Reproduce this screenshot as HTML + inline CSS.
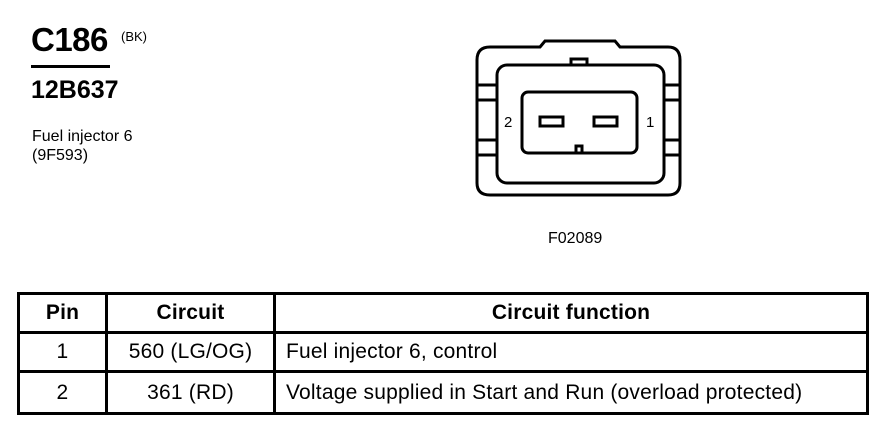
<!DOCTYPE html>
<html><head><style>
body{margin:0;width:896px;height:432px;background:#fff;position:relative;overflow:hidden;font-family:"Liberation Sans",Arial,sans-serif;color:#000}
.a{position:absolute;white-space:nowrap}
table{position:absolute;left:17px;top:292px;border-collapse:collapse;border:3px solid #000;font-size:21px;letter-spacing:0.2px}
td{border:3px solid #000;height:36px;padding:0;text-align:center}
</style></head><body>
<div class="a" style="left:31px;top:21px;font-size:33px;font-weight:bold;letter-spacing:-0.5px">C186</div>
<div class="a" style="left:121px;top:29px;font-size:13px">(BK)</div>
<div style="position:absolute;left:31px;top:65px;width:79px;height:3px;background:#000"></div>
<div class="a" style="left:31px;top:76px;font-size:25px;font-weight:bold">12B637</div>
<div class="a" style="left:32px;top:127px;font-size:16px;line-height:19px">Fuel injector 6<br>(9F593)</div>
<svg style="position:absolute;left:0;top:0" width="896" height="432">
<g fill="none" stroke="#000" stroke-width="3">
<path d="M540 47 L545 41 L615 41 L620 47 L668 47 Q680 47 680 60 L680 183 Q680 195 668 195 L490 195 Q477 195 477 183 L477 60 Q477 47 490 47 Z"/>
<rect x="497" y="65" width="167" height="118" rx="10"/>
<path d="M477 85 H497 M477 100 H497 M477 140 H497 M477 155 H497 M664 85 H680 M664 100 H680 M664 140 H680 M664 155 H680"/>
<rect x="522" y="92" width="115" height="61" rx="6"/>
<rect x="540" y="117" width="23" height="9"/>
<rect x="594" y="117" width="23" height="9"/>
<path d="M576 153 V146 H582 V153"/>
<path d="M571 65 V59 H587 V65"/>
</g>
<text x="504" y="127" font-size="15" font-family="Liberation Sans">2</text>
<text x="646" y="127" font-size="15" font-family="Liberation Sans">1</text>
<text x="548" y="243" font-size="16" font-family="Liberation Sans">F02089</text>
</svg>
<table style="width:852px">
<tr style="font-weight:bold"><td style="width:85px">Pin</td><td style="width:165px">Circuit</td><td>Circuit function</td></tr>
<tr><td>1</td><td>560 (LG/OG)</td><td style="text-align:left;padding-left:10px">Fuel injector 6, control</td></tr>
<tr><td style="height:39px">2</td><td>361 (RD)</td><td style="text-align:left;padding-left:10px">Voltage supplied in Start and Run (overload protected)</td></tr>
</table>
</body></html>
